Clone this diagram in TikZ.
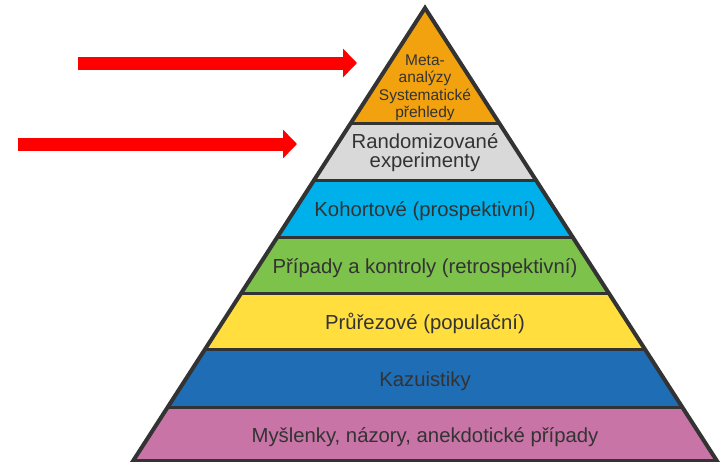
\documentclass[tikz,border=0pt]{standalone}
\usepackage{fontspec}
\setmainfont{Liberation Sans}
\usetikzlibrary{arrows.meta}
\definecolor{lvorange}{HTML}{F2A20E}
\definecolor{lvgray}{HTML}{D9D9D9}
\definecolor{lvcyan}{HTML}{00B0EB}
\definecolor{lvgreen}{HTML}{7DC24B}
\definecolor{lvyellow}{HTML}{FFDE3D}
\definecolor{lvblue}{HTML}{1F6DB4}
\definecolor{lvpink}{HTML}{C874A6}
\definecolor{lvline}{HTML}{333333}
\definecolor{lvtext}{HTML}{333333}
\definecolor{lvred}{HTML}{FF0000}
\tikzset{
  bandtext/.style={text=lvtext, align=center, inner sep=0pt,
    font=\fontsize{20.3}{19}\selectfont},
  toptext/.style={text=lvtext, align=center, inner sep=0pt,
    font=\fontsize{15.5}{17.5}\selectfont},
  sepline/.style={draw=lvline, line width=3pt},
  outline/.style={draw=lvline, line width=4pt, line join=miter},
  redarrow/.style={draw=lvred, line width=13pt,
    -{Triangle[length=14pt,width=28pt]}}
}
\begin{document}
\begin{tikzpicture}[x=1pt,y=-1pt]
\useasboundingbox (0,0) rectangle (725,461);
\coordinate (apex) at (425,8);
\coordinate (bl) at (133,461);
\coordinate (br) at (717,461);
\begin{scope}
  \clip (apex) -- (bl) -- (br) -- cycle;
  \fill[lvorange] (0,0) rectangle (725,123);
  \fill[lvgray] (0,123) rectangle (725,180);
  \fill[lvcyan] (0,180) rectangle (725,237);
  \fill[lvgreen] (0,237) rectangle (725,293);
  \fill[lvyellow] (0,293) rectangle (725,349);
  \fill[lvblue] (0,349) rectangle (725,407);
  \fill[lvpink] (0,407) rectangle (725,470);
  \foreach \yy in {123,180,237,293,349,407}{
    \draw[sepline] (0,\yy) -- (725,\yy);
  }
\end{scope}
\draw[outline] (apex) -- (bl) -- (br) -- cycle;

\node[toptext] (meta) at (425,88) {Meta-\\analýzy\\Systematické\\přehledy};
\node[bandtext] (rand) at (425,153) {Randomizované\\experimenty};
\node[bandtext] (koh) at (425,211.5) {Kohortové (prospektivní)};
\node[bandtext] (pri) at (425,268) {Případy a kontroly (retrospektivní)};
\node[bandtext] (pru) at (425,323.5) {Průřezové (populační)};
\node[bandtext] (kaz) at (425,381) {Kazuistiky};
\node[bandtext] (mys) at (425,437) {Myšlenky, názory, anekdotické případy};

\coordinate (a1s) at (78,63);
\coordinate (a1e) at (357,63);
\coordinate (a2s) at (18,144);
\coordinate (a2e) at (297,144);
\draw[redarrow] (a1s) -- (a1e);
\draw[redarrow] (a2s) -- (a2e);
\end{tikzpicture}
\end{document}
